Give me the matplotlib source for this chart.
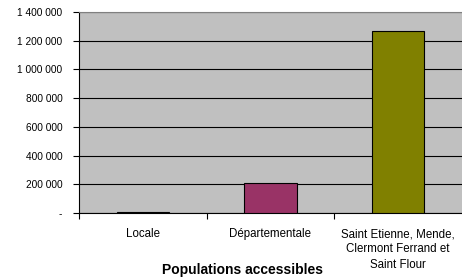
import matplotlib.pyplot as plt
import numpy as np

plt.rcParams['font.family'] = ['Liberation Sans', 'DejaVu Sans']

categories = ["Locale", "Départementale", "Saint Etienne, Mende,\nClermont Ferrand et\nSaint Flour"]
values = [5000, 210000, 1270000]
colors = ["#000080", "#993366", "#808000"]
yticks = [0, 200000, 400000, 600000, 800000, 1000000, 1200000, 1400000]
ytick_labels = ["-", "200 000", "400 000", "600 000", "800 000", "1 000 000", "1 200 000", "1 400 000"]

fig = plt.figure(figsize=(4.62, 2.79), dpi=100)
ax = fig.add_axes([79 / 462, (279 - 213) / 279, (462 - 79) / 462, (213 - 12) / 279])
ax.set_facecolor("#C0C0C0")

x = np.arange(len(categories))
ax.bar(x, values, width=0.41, color=colors, edgecolor="black", linewidth=0.8, zorder=3)

ax.set_xlim(-0.5, 2.5)
ax.set_ylim(0, 1400000)
ax.set_yticks(yticks)
ax.set_yticklabels(ytick_labels, fontsize=7.3)
ax.yaxis.grid(True, color="black", linewidth=0.8, zorder=1)

ax.set_xticks(x)
ax.set_xticklabels(categories, fontsize=8.3, linespacing=1.35)
ax.set_xticks([-0.5, 0.5, 1.5], minor=True)
ax.tick_params(axis="x", which="major", length=0, pad=11)
ax.tick_params(axis="x", which="minor", length=4, direction="out", width=0.8)
ax.tick_params(axis="y", length=4, direction="out", width=0.8, pad=8)

ax.spines["right"].set_visible(False)
ax.spines["top"].set_color("#808080")
ax.spines["left"].set_linewidth(0.8)
ax.spines["bottom"].set_linewidth(0.8)

ax.set_xlabel("Populations accessibles", fontsize=10, fontweight="bold", va="center")
ax.xaxis.set_label_coords(0.5 - 0.5 * (462 - 79 - 2 * (242 - 79)) / (462 - 79), -0.284)

fig.savefig("out.png", dpi=100)
